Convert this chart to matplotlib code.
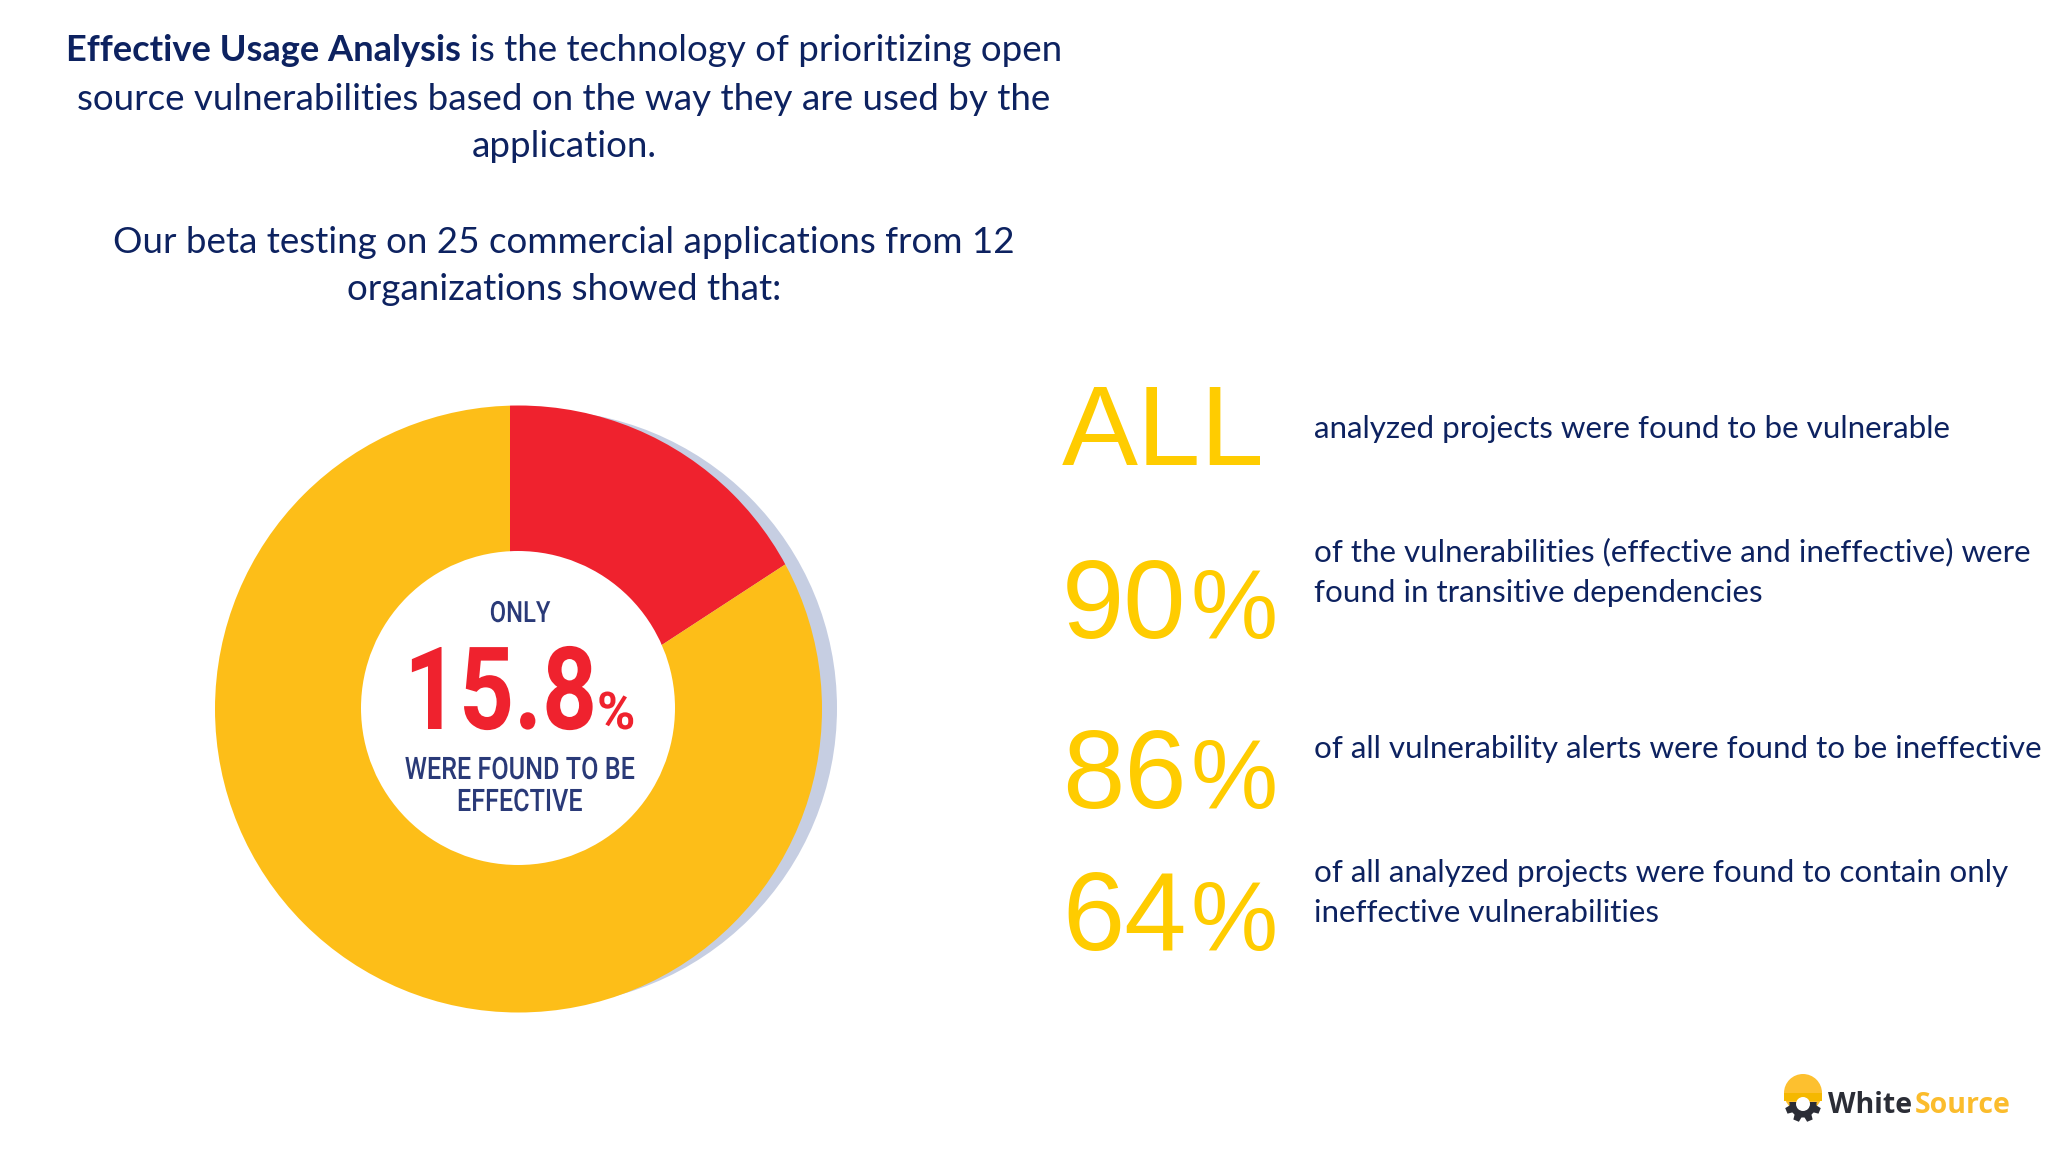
import numpy as np
import matplotlib
matplotlib.use("Agg")
import matplotlib.pyplot as plt
from matplotlib.patches import Circle, Rectangle, Polygon
from matplotlib.patheffects import AbstractPathEffect
from matplotlib.transforms import Affine2D

# ---- data ----
pie_labels = ["Effective", "Ineffective"]
pie_values = [15.8, 84.2]
stat_labels = ["ALL", "90", "86", "64"]
stat_texts = [
    ["analyzed projects were found to be vulnerable"],
    ["of the vulnerabilities (effective and ineffective) were", "found in transitive dependencies"],
    ["of all vulnerability alerts were found to be ineffective"],
    ["of all analyzed projects were found to contain only", "ineffective vulnerabilities"],
]

NAVY = "#0D2260"
GOLD = "#FFCC00"
YEL = "#FDBE18"
RED = "#EF222E"
SHADOW = "#C6CEE2"
CENTER_TXT = "#2A3A78"
TXT = "Lato"
W, H = 2048, 1152

fig = plt.figure(figsize=(W / 100, H / 100), dpi=100, facecolor="white")
ax = fig.add_axes([0, 0, 1, 1])


def Y(y):
    return H - y


def px(s):
    return s * 0.72


class YStretch(AbstractPathEffect):
    """Stretch text vertically about its baseline (the reference face is condensed)."""

    def __init__(self, y0, k):
        super().__init__()
        self.y0, self.k = y0, k

    def draw_path(self, renderer, gc, tpath, affine, rgbFace=None):
        t = affine + Affine2D().translate(0, -self.y0).scale(1, self.k).translate(0, self.y0)
        renderer.draw_path(gc, tpath, t, rgbFace)


def tall(x, base, s, size, k, color, ha="center", weight="normal"):
    ax.text(x, Y(base), s, family="Roboto", fontsize=px(size), fontweight=weight, color=color,
            ha=ha, va="baseline", zorder=4, path_effects=[YStretch(Y(base), k)])


# ---- donut ----
disc_c = (518.5, Y(709))
disc_r = 303.5
ax.add_patch(Circle((539, Y(708)), 298, fc=SHADOW, ec="none", zorder=1))
clip = Circle(disc_c, disc_r, transform=ax.transData, fc="none", ec="none")
ax.add_patch(clip)
wedges, _ = ax.pie(pie_values, colors=[RED, YEL], startangle=90, counterclock=False,
                   center=(510, Y(744)), radius=420,
                   wedgeprops=dict(linewidth=0, zorder=2), frame=True)
for w in wedges:
    w.set_clip_on(True)
    w.set_clip_path(clip)
ax.add_patch(Circle((518, Y(708)), 157, fc="white", ec="none", zorder=3))
ax.set_xlim(0, W)
ax.set_ylim(0, H)
ax.set_aspect("auto")
ax.axis("off")

tall(520, 622, "ONLY", 23.8, 1.23, CENTER_TXT, weight="medium")
tall(404, 729, "15.8", 96, 1.2, RED, ha="left", weight="bold")
tall(597, 729, "%", 52, 1.0, RED, ha="left", weight="bold")
tall(520, 779, "WERE FOUND TO BE", 25.2, 1.23, CENTER_TXT, weight="medium")
tall(520, 811, "EFFECTIVE", 25.2, 1.23, CENTER_TXT, weight="medium")

# ---- heading ----
FS = px(36.7)
ax.text(66, Y(61), "Effective Usage Analysis", family=TXT, fontweight="bold", fontsize=px(36.3),
        color=NAVY, ha="left", va="baseline")
ax.text(470, Y(61), "is the technology of prioritizing open", family=TXT, fontsize=FS,
        color=NAVY, ha="left", va="baseline")
for y, s in [(110, "source vulnerabilities based on the way they are used by the"),
             (157, "application."),
             (253, "Our beta testing on 25 commercial applications from 12"),
             (300, "organizations showed that:")]:
    ax.text(564, Y(y), s, family=TXT, fontsize=FS, color=NAVY, ha="center", va="baseline")

# ---- stats ----
BIG = "Liberation Sans"
num_base = [465, 638, 808, 950]
for lab, b in zip(stat_labels, num_base):
    ax.text(1062, Y(b), lab, family=BIG, fontsize=px(114 if lab == "ALL" else 112), color=GOLD,
            ha="left", va="baseline")
    if lab != "ALL":
        ax.text(1190, Y(b), "%", family=BIG, fontsize=px(98), color=GOLD, ha="left", va="baseline")

txt_base = [[438], [561, 602], [758], [882, 922]]
for lines, bases in zip(stat_texts, txt_base):
    for s, b in zip(lines, bases):
        ax.text(1314, Y(b), s, family=TXT, fontsize=px(31.4), color=NAVY, ha="left", va="baseline")

# ---- logo ----
ax.add_patch(Circle((1803, Y(1093)), 19, fc="#FDC02F", ec="none", zorder=5))
ax.add_patch(Rectangle((1784, Y(1101)), 38, 8, fc="#F5B800", ec="none", zorder=5))
gc = (1803, Y(1104))
gclip = Rectangle((1770, Y(1135)), 70, 33, transform=ax.transData, fc="none", ec="none")
ax.add_patch(gclip)
g = ax.add_patch(Circle(gc, 13.5, fc="#2B2D36", ec="none", zorder=5))
g.set_clip_path(gclip)
for a in np.deg2rad(np.arange(0, 360, 45) + 22.5):
    c, s = np.cos(a), np.sin(a)
    n = np.array([-s, c])
    d = np.array([c, s])
    pts = [np.array(gc) + d * 11 + n * 4, np.array(gc) + d * 18 + n * 3,
           np.array(gc) + d * 18 - n * 3, np.array(gc) + d * 11 - n * 4]
    t = ax.add_patch(Polygon(pts, fc="#2B2D36", ec="none", zorder=5))
    t.set_clip_path(gclip)
ax.add_patch(Circle(gc, 7, fc="white", ec="none", zorder=6))
ax.text(1828, Y(1113), "White", family="Open Sans", fontweight="bold", fontsize=px(28.5),
        color="#2B2D36", ha="left", va="baseline")
ax.text(1915, Y(1113), "Source", family="Open Sans", fontweight="bold", fontsize=px(28.5),
        color="#FBBC2C", ha="left", va="baseline")

fig.savefig("out.png", dpi=100, facecolor="white")
